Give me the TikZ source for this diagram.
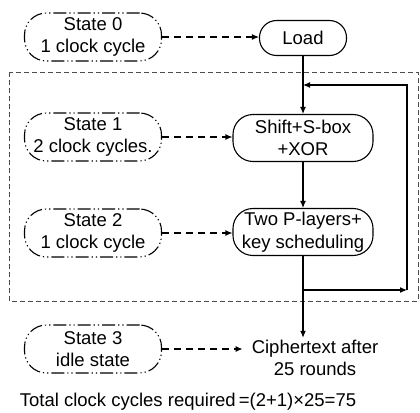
\documentclass[tikz,border=0pt]{standalone}
\usepackage{fontspec}
\setmainfont{Liberation Sans}
\usetikzlibrary{arrows.meta}

\begin{document}
\begin{tikzpicture}[x=1pt,y=-1pt,
    font=\fontsize{18.5}{22.5}\selectfont,
    statebox/.style={draw, line width=1.1pt, rounded corners=22pt,
                dash pattern=on 13pt off 3pt on 1.2pt off 3pt on 1.2pt off 3pt,
                minimum width=137pt, minimum height=48pt, align=center, inner sep=0pt},
    stepbox/.style={draw, line width=1.1pt, rounded corners=20pt,
                minimum width=140pt, minimum height=47pt, align=center, inner sep=0pt},
    flow/.style={line width=1.1pt, -{Latex[length=7pt,width=6pt]}},
    hint/.style={line width=1.1pt, dash pattern=on 7pt off 5pt, -{Latex[length=7pt,width=6pt]}}]

  \useasboundingbox (0,0) rectangle (420,412);

  % -- the loop that runs once per round
  \draw[line width=0.8pt, black!70, dash pattern=on 5pt off 3pt] (9,72) rectangle (418,301);

  % -- states on the left, datapath steps on the right
  \node[statebox] (st0) at (93,37) {State 0\\1 clock cycle};
  \node[stepbox, minimum width=87pt, minimum height=35pt, rounded corners=17pt] (load) at (303,38) {Load};
  \node[statebox] (st1) at (93,137) {State 1\\2 clock cycles.};
  \node[stepbox] (shift) at (303,138) {Shift+S-box\\+XOR};
  \node[statebox] (st2) at (93,233) {State 2\\1 clock cycle};
  \node[stepbox] (twop) at (303,232) {Two P-layers+\\key scheduling};
  \node[statebox] (st3) at (93,349) {State 3\\idle state};
  \node[align=center, inner xsep=9pt, inner ysep=2pt] (ctext) at (315,358) {Ciphertext after\\25 rounds};
  \node (total) at (188,402) {Total clock cycles required\,=(2+1)×25=75};

  % -- feedback path corners
  \coordinate (split) at (303,290);
  \coordinate (rturn) at (407,290);
  \coordinate (rtop) at (407,85);
  \coordinate (merge) at (303,85);

  \draw[flow] (load) -- (shift);
  \draw[flow] (shift) -- (twop);
  \draw[flow] (twop) -- (twop.south |- ctext.north);
  \draw[flow] (split) -- (rturn);
  \draw[flow] (rturn) -- (rtop) -- (merge);

  % -- which state drives which step
  \draw[hint] (st0.east) -- (st0.east -| load.west);
  \draw[hint] (st1.east) -- (st1.east -| shift.west);
  \draw[hint] (st2.east) -- (st2.east -| twop.west);
  \draw[hint] (st3.east) -- (st3.east -| ctext.west);
\end{tikzpicture}
\end{document}
